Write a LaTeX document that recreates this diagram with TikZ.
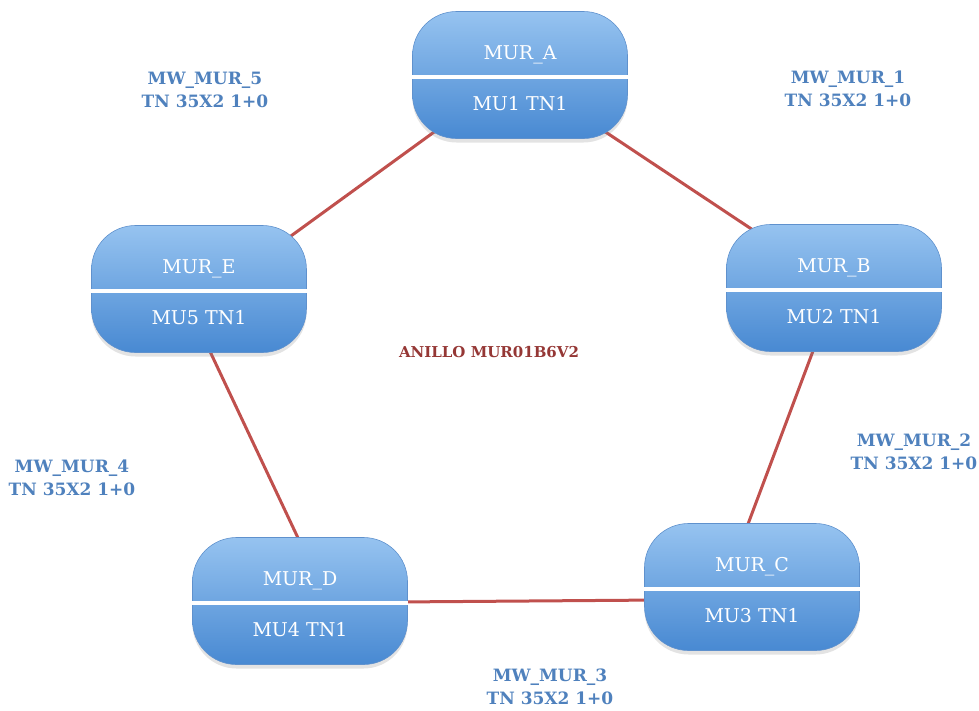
\documentclass[tikz,border=0pt]{standalone}
\usepackage{fontspec}
\setmainfont{DejaVu Serif}
\usetikzlibrary{backgrounds,shadows}

\definecolor{linkred}{RGB}{192,80,77}
\definecolor{labblue}{RGB}{79,129,189}
\definecolor{ringred}{RGB}{149,55,53}
\definecolor{unittop}{RGB}{150,195,240}
\definecolor{unitbot}{RGB}{72,137,210}
\definecolor{unitedge}{RGB}{95,145,205}

\newcommand{\unittext}[2]{\rule{0pt}{21pt}#1\\[30pt]#2}

\tikzset{
  unit/.style={rectangle, rounded corners=44pt, minimum width=215pt,
    minimum height=127pt, top color=unittop, bottom color=unitbot,
    draw=unitedge, line width=0.6pt, text=white, align=center,
    font=\fontsize{19}{21}\selectfont,
    drop shadow={opacity=0.22, shadow xshift=0pt, shadow yshift=-4pt}},
  divider/.style={white, line width=3.5pt},
  link/.style={linkred, line width=3pt},
  linklabel/.style={text=labblue, align=center,
    font=\bfseries\fontsize{17}{23}\selectfont},
  ringname/.style={text=ringred, font=\bfseries\fontsize{15}{18}\selectfont}
}

\begin{document}
\begin{tikzpicture}[x=1pt, y=-1pt]
  \useasboundingbox (0,0) rectangle (979,710);

  % radio units of the ring
  \node[unit] (A) at (520,75)  {\unittext{MUR\_A}{MU1 TN1}};
  \node[unit] (B) at (834,288) {\unittext{MUR\_B}{MU2 TN1}};
  \node[unit] (C) at (752,587) {\unittext{MUR\_C}{MU3 TN1}};
  \node[unit] (D) at (300,601) {\unittext{MUR\_D}{MU4 TN1}};
  \node[unit] (E) at (199,289) {\unittext{MUR\_E}{MU5 TN1}};

  % white separator between the two rows of each unit
  \foreach \u in {A,B,C,D,E}
    \draw[divider] ([yshift=-2pt]\u.west) -- ([yshift=-2pt]\u.east);

  % microwave links
  \begin{pgfonlayer}{background}
    \draw[link] ([shift={(72,48)}]A.center)  -- ([shift={(-66,-48)}]B.center);
    \draw[link] ([shift={(-15,47)}]B.center) -- ([shift={(-10,-47)}]C.center);
    \draw[link] ([shift={(95,1)}]D.center)   -- ([shift={(-92,13)}]C.center);
    \draw[link] ([shift={(-1,37)}]E.center)  -- ([shift={(7,-44)}]D.center);
    \draw[link] ([shift={(-68,44)}]A.center) -- ([shift={(74,-40)}]E.center);
  \end{pgfonlayer}

  % link labels
  \node[linklabel] (l1) at (848,89)  {MW\_MUR\_1\\TN 35X2 1+0};
  \node[linklabel] (l2) at (914,452) {MW\_MUR\_2\\TN 35X2 1+0};
  \node[linklabel] (l3) at (550,687) {MW\_MUR\_3\\TN 35X2 1+0};
  \node[linklabel] (l4) at (72,478)  {MW\_MUR\_4\\TN 35X2 1+0};
  \node[linklabel] (l5) at (205,90)  {MW\_MUR\_5\\TN 35X2 1+0};

  % ring name
  \node[ringname] (ring) at (489,352) {ANILLO MUR01B6V2};
\end{tikzpicture}
\end{document}
